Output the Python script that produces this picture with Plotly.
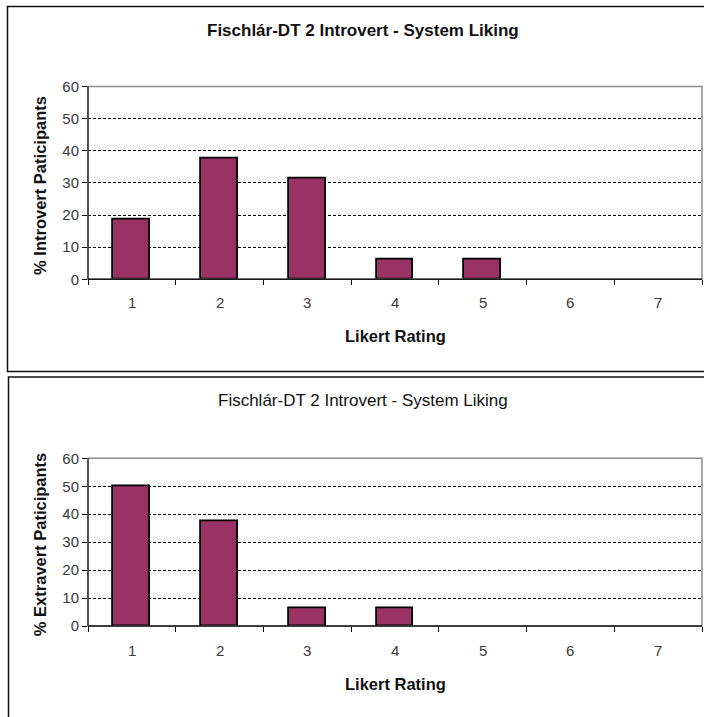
import plotly.graph_objects as go

W, H = 704, 717

ratings = [1, 2, 3, 4, 5, 6, 7]
introvert_pct = [18.75, 37.5, 31.25, 6.25, 6.25, 0, 0]
extravert_pct = [50.0, 37.5, 6.25, 6.25, 0, 0, 0]
y_ticks = [0, 10, 20, 30, 40, 50, 60]

titles = ["Fischlár-DT 2 Introvert - System Liking",
          "Fischlár-DT 2 Introvert - System Liking"]
y_titles = ["% Introvert Paticipants", "% Extravert Paticipants"]
x_title = "Likert Rating"

BAR = "#993366"
FONT = "Liberation Sans, Arial, sans-serif"
TICK_FONT = dict(family=FONT, size=15, color="#3a3a3a")


def px_x(v):
    return v / W


def px_y(v):
    return 1 - v / H


# plot area pixel boxes (left, right, top, bottom)
boxes = [(88, 702, 86.5, 279.3), (88, 702, 458.3, 626.0)]
# panel frames (left, top, right, bottom)
frames = [(7.5, 6.5, 720, 371.5), (8.5, 377, 720, 730)]
title_y = [30, 400]
title_bold = [True, False]
xtitle_y = [336, 684]
xtick_y = [302.5, 650]

fig = go.Figure()
shapes = []
annotations = []

for i, vals in enumerate([introvert_pct, extravert_pct]):
    xa = "x" if i == 0 else "x2"
    ya = "y" if i == 0 else "y2"
    fig.add_trace(go.Bar(
        x=ratings, y=vals, xaxis=xa, yaxis=ya, width=0.42,
        marker=dict(color=BAR,
                    line=dict(color="black",
                              width=[1.8 if v > 0 else 0 for v in vals])),
        showlegend=False, hoverinfo="x+y",
    ))
    l, r, t, b = boxes[i]
    axis_x = dict(
        domain=[px_x(l), px_x(r)], range=[0.5, 7.5],
        tickvals=ratings, ticks="", showticklabels=False, showgrid=False,
        zeroline=False, showline=False, fixedrange=True, automargin=False,
        minor=dict(tickmode="array", tickvals=[k + 0.5 for k in range(8)],
                   ticks="outside", ticklen=5, tickcolor="black", tickwidth=1,
                   showgrid=False),
        anchor=ya,
    )
    axis_y = dict(
        domain=[px_y(b), px_y(t)], range=[0, 60], tickvals=y_ticks,
        ticks="outside", ticklen=5, tickcolor="black", tickwidth=1,
        tickfont=TICK_FONT, automargin=False,
        showgrid=True, gridcolor="black", gridwidth=1, griddash="3px,2px",
        zeroline=False, showline=False, fixedrange=True, anchor=xa,
    )
    if i == 0:
        fig.update_layout(xaxis=axis_x, yaxis=axis_y)
    else:
        fig.update_layout(xaxis2=axis_x, yaxis2=axis_y)

    # plot area frame: grey top/right, dark left/bottom
    shapes.append(dict(type="rect", xref="paper", yref="paper",
                       x0=px_x(l), x1=px_x(r), y0=px_y(b), y1=px_y(t),
                       line=dict(color="#8c8c8c", width=1.5), layer="above"))
    shapes.append(dict(type="line", xref="paper", yref="paper",
                       x0=px_x(l), x1=px_x(r), y0=px_y(b), y1=px_y(b),
                       line=dict(color="#1a1a1a", width=1.5), layer="above"))
    shapes.append(dict(type="line", xref="paper", yref="paper",
                       x0=px_x(l), x1=px_x(l), y0=px_y(b), y1=px_y(t),
                       line=dict(color="#1a1a1a", width=1.2), layer="above"))
    # chart frame
    fl, ft, fr, fb = frames[i]
    shapes.append(dict(type="rect", xref="paper", yref="paper",
                       x0=px_x(fl), x1=px_x(fr), y0=px_y(fb), y1=px_y(ft),
                       line=dict(color="#111", width=1.5), layer="above"))

    # category labels
    for k in ratings:
        annotations.append(dict(
            xref=xa, yref="paper", x=k, y=px_y(xtick_y[i]),
            text=str(k), showarrow=False, xanchor="center", yanchor="middle",
            font=TICK_FONT))
    # chart title
    ttl = f"<b>{titles[i]}</b>" if title_bold[i] else titles[i]
    annotations.append(dict(
        xref="paper", yref="paper", x=px_x(363), y=px_y(title_y[i]),
        text=ttl, showarrow=False, xanchor="center", yanchor="middle",
        font=dict(family=FONT, size=17, color="#111")))
    # axis titles
    annotations.append(dict(
        xref="paper", yref="paper", x=px_x((l + r) / 2), y=px_y(xtitle_y[i]),
        text=f"<b>{x_title}</b>", showarrow=False, xanchor="center",
        yanchor="middle", font=dict(family=FONT, size=16.5, color="#111")))
    annotations.append(dict(
        xref="paper", yref="paper", x=px_x(40), y=px_y((t + b) / 2 + 3),
        text=f"<b>{y_titles[i]}</b>", showarrow=False, textangle=-90,
        xanchor="center", yanchor="middle",
        font=dict(family=FONT, size=16.5, color="#111")))

fig.update_layout(
    width=W, height=H, margin=dict(l=0, r=0, t=0, b=0, autoexpand=False),
    paper_bgcolor="white", plot_bgcolor="white",
    shapes=shapes, annotations=annotations, bargap=0,
)

fig.write_html("out.html")
